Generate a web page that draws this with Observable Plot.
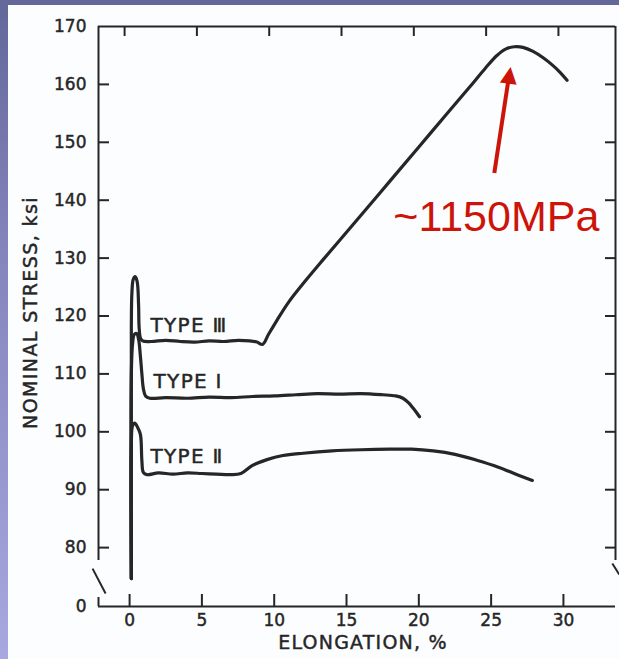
<!DOCTYPE html>
<html>
<head>
<meta charset="utf-8">
<script src="https://cdn.jsdelivr.net/npm/d3@7"></script>
<script src="https://cdn.jsdelivr.net/npm/@observablehq/plot@0.6"></script>
<style>
html, body { margin: 0; padding: 0; }
body { width: 619px; height: 659px; overflow: hidden; position: relative;
  background: linear-gradient(to bottom, #64679a 0%, #8486bd 40%, #a7a8df 100%); }
#page { position: absolute; left: 8px; top: 5px; right: 0; bottom: 0; background: #fcfdff; }
#chart { position: absolute; left: 0; top: 0; }
</style>
</head>
<body>
<div id="page"></div>
<div id="chart"></div>
<script>
// ---- data ----
const xTicks = [0, 5, 10, 15, 20, 25, 30];
const yTickValues = [0, 80, 90, 100, 110, 120, 130, 140, 150, 160, 170];
const yInnerTicks = [80, 90, 100, 110, 120, 130, 140, 150, 160];
const xDomain = [-2.15, 33.6];
const yBreakAt = 80;      // axis is broken between 0 and 80 ksi
const yBreakSpan = 10.17; // the 0..80 span is drawn as tall as ~10 ksi
const yMax = 170;
const xTitle = "ELONGATION, %";
const yTitle = "NOMINAL STRESS, ksi";

// [elongation %, nominal stress ksi]
const typeIII = [
  [0.12, 38], [0.12, 100], [0.12, 118], [0.16, 124], [0.25, 126.3], [0.38, 126.8],
  [0.52, 126], [0.62, 122], [0.66, 118], [0.75, 116.2], [0.9, 115.7], [1.5, 115.6],
  [2.5, 115.8], [3.5, 115.6], [4.5, 115.5], [5.5, 115.7], [6.5, 115.6], [7.5, 115.8],
  [8.3, 115.7], [8.8, 115.5], [9.2, 115.1], [9.6, 116.8], [10.2, 119.3], [11.0, 122.4],
  [12.0, 125.6], [13.2, 129.2], [14.5, 133], [16, 137.4], [18, 143.3], [20, 149.2],
  [22, 155.1], [23.5, 159.5], [24.6, 162.8], [25.4, 165.0], [26.0, 166.1], [26.6, 166.5],
  [27.2, 166.4], [27.9, 165.7], [28.6, 164.6], [29.3, 163.2], [29.8, 162.0], [30.25, 160.7]
];
const typeI = [
  [0.12, 38], [0.12, 110], [0.2, 115], [0.32, 116.8], [0.48, 117], [0.62, 116],
  [0.75, 113], [0.85, 110], [0.95, 107.5], [1.1, 106.2], [1.4, 105.8], [2.5, 105.9],
  [4, 105.8], [5.5, 106], [7, 105.9], [8.5, 106.1], [10, 106.2], [11.5, 106.4],
  [13, 106.6], [14.5, 106.5], [16, 106.6], [17.5, 106.4], [18.4, 106.2], [18.9, 105.8],
  [19.3, 105], [19.6, 104.1], [19.85, 103.3], [20.05, 102.6]
];
const typeII = [
  [0.12, 38], [0.12, 98], [0.2, 101], [0.35, 101.5], [0.55, 100.8], [0.75, 99.5],
  [0.85, 95], [0.95, 93], [1.2, 92.6], [2, 92.9], [3, 92.7], [4, 92.9], [5, 92.8],
  [6, 92.7], [7, 92.6], [7.7, 92.8], [8.5, 94.2], [9.5, 95.2], [10.6, 95.9], [12, 96.3],
  [14, 96.7], [16, 96.9], [18, 97], [19.5, 97], [21, 96.7], [22.5, 96.1], [24, 95.1],
  [25.5, 93.9], [26.8, 92.6], [27.85, 91.6]
];
const typeNames = ["TYPE Ⅲ", "TYPE I", "TYPE Ⅱ"];
const typeLabelX = [1.45, 1.66, 1.45];
const typeLabelY = [118.3, 108.6, 95.7];

const annotationText = ["~1150MPa"];
const annotationAt = [25.36, 137.0];
const arrowTail = [25.22, 144.7];
const arrowHeadBase = [26.22, 161.2];
const arrowHeadCenter = [26.27, 161.8];

// frame segments (in data units) around the axis breaks
const leftFrame = [{y1: 62.4, y2: 170}, {y1: 0, y2: 12.2}];
const rightFrame = [{y1: 62.4, y2: 170}];
const axisBreaks = [
  {x1: -2.56, y1: 51.5, x2: -1.66, y2: 17.6},
  {x1: 33.38, y1: 58.3, x2: 33.86, y2: 43.4}
];

// ---- layout ----
const W = 619, H = 659, ML = 98, MR = 4, MT = 26, MB = 53;
const plotW = W - ML - MR, plotH = H - MT - MB;
const ink = "#262626";
const red = "#cc1408";
const lettering = "'DejaVu Sans', 'Liberation Sans', sans-serif";
const inkText = {fill: ink, stroke: ink, strokeWidth: 0.45};

const brokenY = v => v >= yBreakAt ? v : yBreakAt - (yBreakAt - v) * yBreakSpan / yBreakAt;

const labels = typeNames.map((t, i) => ({t, x: typeLabelX[i], y: typeLabelY[i]}));

const chart = Plot.plot({
  width: W, height: H,
  marginLeft: ML, marginRight: MR, marginTop: MT, marginBottom: MB,
  style: {background: "transparent", fontFamily: lettering, color: ink},
  x: {domain: xDomain, axis: null},
  y: {transform: brokenY, domain: [brokenY(0), yMax], axis: null},
  marks: [
    // frame
    Plot.ruleY([170], {stroke: ink, strokeWidth: 2}),
    Plot.ruleY([0], {stroke: ink, strokeWidth: 2}),
    Plot.ruleX(leftFrame, {x: () => xDomain[0], y1: "y1", y2: "y2", stroke: ink, strokeWidth: 2}),
    Plot.ruleX(rightFrame, {x: () => xDomain[1], y1: "y1", y2: "y2", stroke: ink, strokeWidth: 2}),
    Plot.link(axisBreaks, {x1: "x1", y1: "y1", x2: "x2", y2: "y2", stroke: ink, strokeWidth: 2}),
    // inward ticks
    Plot.tickX(xTicks, {x: d => d, insetTop: plotH - 12, stroke: ink, strokeWidth: 2}),
    Plot.tickX(xTicks, {x: d => d, insetBottom: plotH - 10, dx: -5, stroke: ink, strokeWidth: 2}),
    Plot.tickY(yInnerTicks, {y: d => d, insetRight: plotW - 11, stroke: ink, strokeWidth: 2}),
    Plot.tickY(yInnerTicks, {y: d => d, insetLeft: plotW - 10, stroke: ink, strokeWidth: 2}),
    // tick labels
    Plot.text(yTickValues, {y: d => d, text: d => String(d), frameAnchor: "left", dx: -12,
      textAnchor: "end", fontSize: 17, ...inkText}),
    Plot.text(xTicks, {x: d => d, text: d => String(d), frameAnchor: "bottom", dy: 19,
      fontSize: 17, ...inkText}),
    // axis titles
    Plot.text([xTitle], {text: d => d, frameAnchor: "bottom", textAnchor: "middle", dx: 6, dy: 42,
      fontSize: 19, ...inkText}),
    Plot.text([yTitle], {text: d => d, frameAnchor: "left", textAnchor: "middle", dx: -68, dy: -4,
      rotate: -90, fontSize: 19, ...inkText}),
    // curves
    Plot.line(typeII, {x: d => d[0], y: d => d[1], stroke: ink, strokeWidth: 3.2, curve: "catmull-rom"}),
    Plot.line(typeI, {x: d => d[0], y: d => d[1], stroke: ink, strokeWidth: 3.2, curve: "catmull-rom"}),
    Plot.line(typeIII, {x: d => d[0], y: d => d[1], stroke: ink, strokeWidth: 3.2, curve: "catmull-rom"}),
    // curve labels
    Plot.text(labels, {x: "x", y: "y", text: "t", textAnchor: "start", fontSize: 20, ...inkText}),
    // red annotation
    Plot.link([0], {x1: () => arrowTail[0], y1: () => arrowTail[1], x2: () => arrowHeadBase[0],
      y2: () => arrowHeadBase[1], stroke: red, strokeWidth: 4}),
    Plot.text(["▲"], {x: () => arrowHeadCenter[0], y: () => arrowHeadCenter[1], text: d => d,
      rotate: 8, fontSize: 22, fill: red, fontFamily: "DejaVu Sans"}),
    Plot.text(annotationText, {x: () => annotationAt[0], y: () => annotationAt[1], text: d => d,
      fontSize: 43, fill: red, fontFamily: "'Liberation Sans', Arial, sans-serif"})
  ]
});
const spacing = new Map([[xTitle, "1.2px"], [yTitle, "1.4px"],
  [typeNames[0], "1.3px"], [typeNames[1], "1.3px"], [typeNames[2], "1.3px"]]);
d3.select(chart).selectAll("text").each(function () {
  const s = spacing.get(this.textContent);
  if (s) this.setAttribute("letter-spacing", s);
});
document.getElementById("chart").appendChild(chart);
</script>
</body>
</html>
